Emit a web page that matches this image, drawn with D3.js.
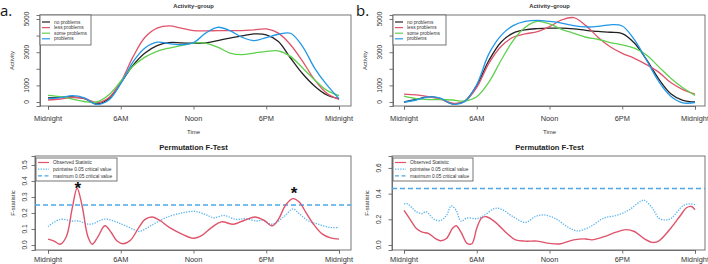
<!DOCTYPE html>
<html>
<head>
<meta charset="utf-8">
<script src="https://cdn.jsdelivr.net/npm/d3@7/dist/d3.min.js"></script>
<style>
  html, body { margin: 0; padding: 0; background: #fff; }
  svg { display: block; font-family: "Liberation Sans", Arial, sans-serif; }
</style>
</head>
<body>
<svg id="chart" width="708" height="264"></svg>
<script>
// ---------------- DATA ----------------
const hours = [0,1,2,3,4,5,6,7,8,9,10,11,12,13,14,15,16,17,18,19,20,21,22,23,24];
const hourTicks = [0, 6, 12, 18, 24];
const hourLabels = ["Midnight", "6AM", "Noon", "6PM", "Midnight"];
const groupNames = ["no problems", "less problems", "some problems", "problems"];
const groupColors = ["#222222", "#DF536B", "#61D04F", "#2297E6"];

// Panel a – activity by group (hourly)
const noA   = [250,280,300,200,-120,200,1150,2200,2950,3400,3580,3560,3540,3560,3700,3850,3980,4100,4050,3650,2650,1700,950,420,200];
const lessA = [120,180,270,220,-40,260,1200,2700,3900,4450,4580,4450,4300,4280,4300,4300,4300,4350,4400,4150,3450,2450,1330,520,150];
const someA = [400,320,170,30,0,420,1250,2150,2700,3050,3250,3400,3550,3550,3300,2950,2850,2950,3050,3080,2750,2050,1330,700,380];
const probA = [200,260,380,250,-140,100,1100,2400,3250,3600,3520,3450,3580,4150,4500,4300,3900,3700,3880,4080,4140,3340,2030,1030,200];

// Panel b – activity by group (hourly)
const noB   = [0,150,320,200,-110,50,1000,2500,3600,4150,4350,4420,4450,4450,4400,4320,4250,4200,4120,3550,2550,1400,500,100,0];
const lessB = [480,430,330,180,-70,30,880,2330,3340,3900,4100,4240,4540,4940,5080,4600,3900,3330,2930,2630,2250,1800,1170,750,470];
const someB = [350,200,150,150,120,60,320,1200,2500,3700,4500,4850,4700,4380,4140,3900,3780,3580,3440,3240,2830,2130,1430,860,400];
const probB = [0,120,300,230,-130,20,1050,2900,4000,4600,4850,4920,4850,4750,4600,4520,4550,4650,4580,3750,2530,1250,350,-50,-30];

// Panel a – permutation F-test: [hour, value]
const obsA = [[0,0.037],[0.5,0.025],[1.0,0.005],[1.5,0.05],[2.0,0.23],[2.4,0.355],[2.8,0.25],[3.3,0.05],[3.65,0.005],[4.1,0.05],[4.7,0.12],[5.2,0.08],[5.7,0.025],[6.2,0.008],[6.8,0.03],[7.5,0.11],[8.0,0.16],[8.6,0.175],[9.2,0.155],[10,0.11],[11,0.07],[12,0.042],[12.7,0.06],[13.5,0.11],[14.3,0.145],[15.3,0.13],[16.2,0.155],[17.1,0.175],[17.8,0.155],[18.5,0.12],[19.0,0.16],[19.6,0.25],[20.2,0.29],[20.7,0.27],[21.3,0.2],[21.9,0.13],[22.6,0.07],[23.3,0.045],[24,0.037]];
const pointwiseA = [[0,0.115],[1,0.16],[2,0.15],[2.5,0.15],[3.5,0.13],[4.7,0.162],[6,0.133],[7,0.1],[7.5,0.085],[8.7,0.13],[9.7,0.17],[11,0.2],[12.1,0.21],[13,0.19],[13.7,0.17],[14.5,0.185],[15.5,0.16],[16.3,0.165],[17.2,0.15],[17.7,0.155],[18.5,0.13],[19.5,0.18],[20.2,0.225],[20.8,0.19],[21.5,0.15],[22.3,0.13],[23.3,0.11],[24,0.11]];
const maxCritA = 0.25;
// significance markers: [hour, F-value at marker centre]
const starsA = [[2.45, 0.38], [20.3, 0.35]];

// Panel b – permutation F-test: [hour, value]
const obsB = [[0,0.27],[0.5,0.2],[1,0.13],[1.5,0.1],[2,0.09],[2.6,0.05],[3,0.033],[3.5,0.05],[4,0.13],[4.3,0.15],[4.7,0.1],[5.2,0.013],[5.6,0.01],[6,0.13],[6.4,0.21],[6.8,0.22],[7.5,0.18],[8.5,0.09],[9.2,0.04],[10,0.03],[11,0.03],[12,0.013],[12.8,0.008],[14,0.04],[15,0.047],[15.5,0.04],[16.5,0.065],[17.5,0.1],[18.3,0.12],[19,0.105],[19.8,0.05],[20.5,0.02],[21,0.03],[22,0.13],[22.8,0.23],[23.3,0.29],[23.7,0.3],[24,0.275]];
const pointwiseB = [[0,0.32],[0.3,0.32],[1,0.26],[1.5,0.245],[1.8,0.26],[2.5,0.2],[3,0.19],[3.5,0.23],[3.9,0.305],[4.3,0.27],[4.7,0.185],[5.2,0.21],[6,0.205],[6.6,0.23],[7.5,0.285],[8,0.28],[9,0.22],[10,0.175],[10.8,0.22],[11.5,0.235],[12.5,0.205],[13.5,0.14],[14.3,0.11],[15.3,0.14],[16.5,0.21],[17.5,0.23],[18.5,0.27],[19.5,0.34],[19.8,0.35],[20.5,0.285],[21,0.21],[21.5,0.195],[22,0.205],[23,0.305],[23.5,0.32],[24,0.315]];
const maxCritB = 0.44;

const fLegend = ["Observed Statistic", "pointwise 0.05 critical value", "maximum 0.05 critical value"];

// ---------------- DRAW ----------------
const svg = d3.select("#chart");
svg.append("rect").attr("width", 708).attr("height", 264).attr("fill", "#fff");

const AXIS = "#666";
const TXT = "#333";

function drawFrame(g, box, x, y, yTicks, yLabelSet, yFmt, yLabOff, yTitle, yTitleX, xLabY) {
  g.append("rect").attr("x", box.x0).attr("y", box.y0)
    .attr("width", box.x1 - box.x0).attr("height", box.y1 - box.y0)
    .attr("fill", "none").attr("stroke", AXIS).attr("stroke-width", 0.9);
  const xa = g.append("g").attr("transform", `translate(0,${box.y1})`)
    .call(d3.axisBottom(x).tickValues(hourTicks).tickSize(3.5).tickFormat(""));
  xa.select(".domain").attr("stroke", AXIS).attr("stroke-width", 0.9);
  xa.selectAll(".tick line").attr("stroke", AXIS).attr("stroke-width", 0.9);
  g.selectAll(null).data(hourTicks).enter().append("text")
    .attr("x", d => x(d)).attr("y", xLabY)
    .attr("text-anchor", "middle").attr("font-size", 7.4).attr("fill", TXT)
    .text((d, i) => hourLabels[i]);
  const ya = g.append("g").attr("transform", `translate(${box.x0},0)`)
    .call(d3.axisLeft(y).tickValues(yTicks).tickSize(3.5).tickFormat(""));
  ya.select(".domain").attr("stroke", AXIS).attr("stroke-width", 0.9);
  ya.selectAll(".tick line").attr("stroke", AXIS).attr("stroke-width", 0.9);
  g.selectAll(null).data(yLabelSet).enter().append("text")
    .attr("transform", d => `translate(${box.x0 - yLabOff},${y(d)}) rotate(-90)`)
    .attr("text-anchor", "middle").attr("dy", "0.35em")
    .attr("font-size", 6.6).attr("fill", TXT)
    .text(yFmt);
  g.append("text")
    .attr("transform", `translate(${yTitleX},${(box.y0 + box.y1) / 2}) rotate(-90)`)
    .attr("text-anchor", "middle").attr("dy", "0.35em")
    .attr("font-size", 6).attr("fill", TXT).text(yTitle);
}

function activityPanel(letter, letterX, box, xr, series) {
  const g = svg.append("g");
  const x = d3.scaleLinear().domain([0, 24]).range(xr);
  const y = d3.scaleLinear().domain([-241, 5240]).range([box.y1, box.y0]);
  drawFrame(g, box, x, y, [0,1000,2000,3000,4000,5000], [0,1000,3000,5000], d => d, 13,
            "Activity", box.x0 - 28, 120.5);
  g.append("text").attr("x", (xr[0] + xr[1]) / 2).attr("y", 8)
    .attr("text-anchor", "middle").attr("font-size", 5.8).attr("font-weight", "bold")
    .attr("fill", TXT).text("Activity\u2013group");
  g.append("text").attr("x", (xr[0] + xr[1]) / 2).attr("y", 133.5)
    .attr("text-anchor", "middle").attr("font-size", 6).attr("fill", TXT).text("Time");
  const line = d3.line().x((d, i) => x(hours[i])).y(d => y(d)).curve(d3.curveCatmullRom.alpha(0.5));
  const clipId = "clip" + letter;
  g.append("clipPath").attr("id", clipId).append("rect")
    .attr("x", box.x0).attr("y", box.y0).attr("width", box.x1 - box.x0).attr("height", box.y1 - box.y0);
  const lg = g.append("g").attr("clip-path", `url(#${clipId})`);
  series.forEach((s, i) => {
    lg.append("path").attr("d", line(s)).attr("fill", "none")
      .attr("stroke", groupColors[i]).attr("stroke-width", 1.3);
  });
  const L = { x: box.x0, y: box.y0, w: letter === "a" ? 51 : 53, h: 30 };
  g.append("rect").attr("x", L.x).attr("y", L.y).attr("width", L.w).attr("height", L.h)
    .attr("fill", "#fff").attr("stroke", AXIS).attr("stroke-width", 0.9);
  groupNames.forEach((n, i) => {
    const yy = L.y + 7 + i * 5.6;
    g.append("line").attr("x1", L.x + 2).attr("x2", L.x + 10).attr("y1", yy).attr("y2", yy)
      .attr("stroke", groupColors[i]).attr("stroke-width", 1.2);
    g.append("text").attr("x", L.x + 14).attr("y", yy).attr("dy", "0.35em")
      .attr("font-size", 4.8).attr("fill", TXT).text(n);
  });
  svg.append("text").attr("x", letterX).attr("y", 16).attr("font-family", "'Open Sans', 'Noto Sans', sans-serif")
    .attr("font-size", 15).attr("fill", "#111").text(letter + ".");
}

function ftestPanel(box, xr, yDom, yTicks, yFmt, yLabOff, obs, pw, maxc, stars) {
  const g = svg.append("g");
  const x = d3.scaleLinear().domain([0, 24]).range(xr);
  const y = d3.scaleLinear().domain(yDom).range([box.y1, box.y0]);
  drawFrame(g, box, x, y, yTicks, yTicks, yFmt, yLabOff, "F-statistic", box.x0 - (box.x0 > 300 ? 25.5 : 22), 261.5);
  g.append("text").attr("x", (xr[0] + xr[1]) / 2).attr("y", 150)
    .attr("text-anchor", "middle").attr("font-size", 7.6).attr("font-weight", "bold")
    .attr("fill", "#222").text("Permutation F-Test");
  const line = d3.line().x(d => x(d[0])).y(d => y(d[1])).curve(d3.curveCatmullRom.alpha(0.5));
  g.append("line").attr("x1", box.x0).attr("x2", box.x1).attr("y1", y(maxc)).attr("y2", y(maxc))
    .attr("stroke", "#4aa8ea").attr("stroke-width", 1.4).attr("stroke-dasharray", "5,3");
  g.append("path").attr("d", line(pw)).attr("fill", "none")
    .attr("stroke", "#5ab4ee").attr("stroke-width", 1.3).attr("stroke-dasharray", "1.3,1.3");
  g.append("path").attr("d", line(obs)).attr("fill", "none")
    .attr("stroke", "#DF536B").attr("stroke-width", 1.4);
  // legend
  const L = { x: box.x0 + 1, y: box.y0 + 2, w: box.x0 > 300 ? 80 : 81, h: 23 };
  g.append("rect").attr("x", L.x).attr("y", L.y).attr("width", L.w).attr("height", L.h)
    .attr("fill", "#fff").attr("stroke", AXIS).attr("stroke-width", 0.9);
  const styles = [
    { c: "#DF536B", d: null },
    { c: "#5ab4ee", d: "1.3,1.3" },
    { c: "#4aa8ea", d: "4,2.5" }
  ];
  fLegend.forEach((n, i) => {
    const yy = L.y + 4.5 + i * 6.7;
    g.append("line").attr("x1", L.x + 2).attr("x2", L.x + 13).attr("y1", yy).attr("y2", yy)
      .attr("stroke", styles[i].c).attr("stroke-width", 1.2)
      .attr("stroke-dasharray", styles[i].d);
    g.append("text").attr("x", L.x + 17).attr("y", yy).attr("dy", "0.35em")
      .attr("font-size", 4.8).attr("fill", TXT).text(n);
  });
  // significance stars (drawn last, on top); glyph centre ≈ 0.59em above baseline
  (stars || []).forEach(s => {
    g.append("text").attr("x", x(s[0])).attr("y", y(s[1]) + 10).attr("text-anchor", "middle")
      .attr("font-size", 17).attr("font-weight", "bold").attr("fill", "#111").text("*");
  });
}

activityPanel("a", 0, { x0: 40, x1: 351, y0: 15, y1: 106 }, [48, 339], [noA, lessA, someA, probA]);
activityPanel("b", 356, { x0: 393, x1: 705, y0: 15, y1: 106 }, [404, 695], [noB, lessB, someB, probB]);

ftestPanel({ x0: 35, x1: 351, y0: 156, y1: 250 }, [48, 339], [-0.031, 0.556],
  [0, 0.1, 0.2, 0.3, 0.4, 0.5], d => d.toFixed(1), 10, obsA, pointwiseA, maxCritA, starsA);
ftestPanel({ x0: 392, x1: 705, y0: 156, y1: 250 }, [404, 695], [-0.039, 0.693],
  [0, 0.2, 0.4, 0.6], d => d.toFixed(1), 13, obsB, pointwiseB, maxCritB, null);
</script>
</body>
</html>
